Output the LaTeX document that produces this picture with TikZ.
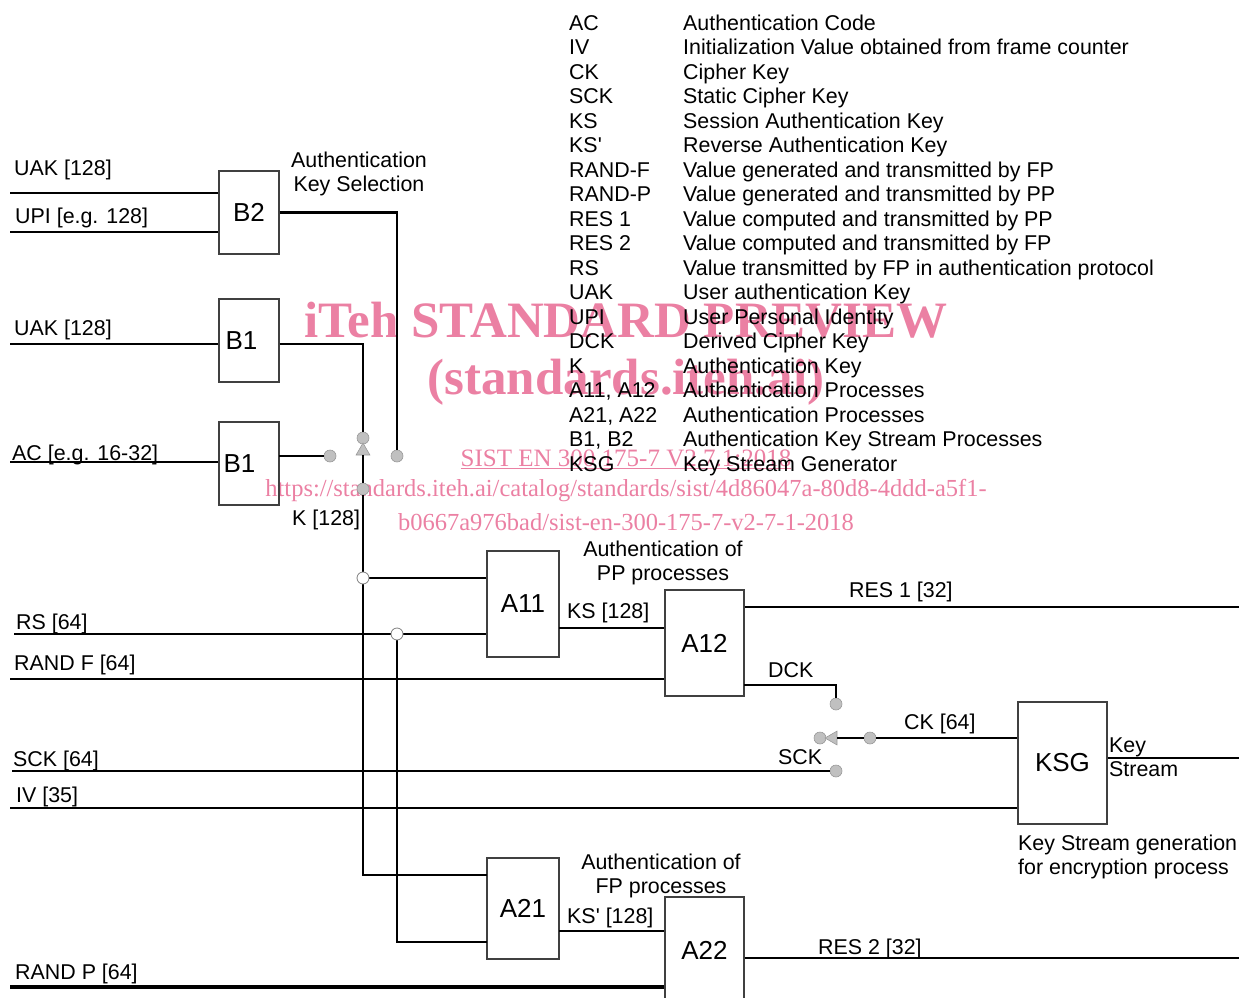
\documentclass[tikz,border=0pt]{standalone}
\usepackage{fontspec}
\setmainfont{Liberation Sans}
\newfontfamily\wmfont{Liberation Serif}
\usetikzlibrary{shapes.geometric}

\definecolor{wmpink}{RGB}{235,128,163}
\definecolor{swgray}{RGB}{192,192,192}

\begin{document}
\begin{tikzpicture}[x=1pt, y=-1pt, every node/.style={font=\fontsize{21.4}{24.5}\selectfont, inner sep=0pt}, blk node/.style={draw=black!75, line width=1.3pt, font=\fontsize{26}{30}\selectfont}, pin node/.style={circle, fill=swgray, draw=black!40, line width=0.6pt, minimum size=12pt}, dot node/.style={circle, fill=white, draw=black!50, line width=0.8pt, minimum size=12pt}, tip node/.style={isosceles triangle, isosceles triangle apex angle=60, fill=swgray, draw=black!40, line width=0.6pt, minimum height=12pt}, lbl node/.style={anchor=base west}, wire/.style={line width=2.3pt}, wm node/.style={text=wmpink}]
\useasboundingbox (0,0) rectangle (1239,998);

% watermark
\node[wm node, font=\wmfont\bfseries\fontsize{51}{56}\selectfont] (wm1) at (626,320) {iTeh STANDARD PREVIEW};
\node[wm node, font=\wmfont\bfseries\fontsize{51}{56}\selectfont] (wm2) at (626,382) {(standards.iteh.ai)};
\node[wm node, font=\wmfont\fontsize{25}{28}\selectfont] (wm3) at (626,459) {\underline{SIST EN 300 175-7 V2.7.1:2018}};
\node[wm node, font=\wmfont\fontsize{24.5}{28}\selectfont] (wm4) at (626,491) {https://standards.iteh.ai/catalog/standards/sist/4d86047a-80d8-4ddd-a5f1-};
\node[wm node, font=\wmfont\fontsize{24.5}{28}\selectfont] (wm5) at (626,522) {b0667a976bad/sist-en-300-175-7-v2-7-1-2018};

% blocks
\node[blk node, minimum width=60pt, minimum height=83pt] (b2) at (249,212.5) {B2};
\node[blk node, minimum width=60pt, minimum height=83pt] (b1a) at (249,340.5) {B1\rule{15pt}{0pt}};
\node[blk node, minimum width=60pt, minimum height=83pt] (b1b) at (249,463.5) {B1\rule{19pt}{0pt}};
\node[blk node, minimum width=72pt, minimum height=106pt] (a11) at (523,604) {A11};
\node[blk node, minimum width=79pt, minimum height=106pt] (a12) at (704.5,643) {A12};
\node[blk node, minimum width=72pt, minimum height=101pt] (a21) at (523,908.5) {A21};
\node[blk node, minimum width=79pt, minimum height=106pt] (a22) at (704.5,950) {A22};
\node[blk node, minimum width=89pt, minimum height=122pt] (ksg) at (1062.5,763) {KSG};

% switch 1
\node[pin node] (sw1) at (363,438) {};
\node[pin node] (sw2) at (330,456) {};
\node[pin node] (sw3) at (397,456) {};
\node[pin node] (sw4) at (363,489) {};
\node[tip node, shape border rotate=90] (tip1) at (363,451) {};

% switch 2
\node[pin node] (sw5) at (836,704) {};
\node[pin node] (sw6) at (820,738) {};
\node[tip node, shape border rotate=180] (tip2) at (833,738) {};
\node[pin node] (sw7) at (870,738) {};
\node[pin node] (sw8) at (836,771) {};

% free ends
\coordinate (uak1) at (10,193);
\coordinate (upi) at (10,232);
\coordinate (uak2) at (10,344);
\coordinate (ac) at (10,462);
\coordinate (b1out) at (279,456);
\coordinate (j1) at (363,578);
\coordinate (j2) at (397,634);
\coordinate (rs) at (14,634);
\coordinate (randf) at (10,679);
\coordinate (ksout) at (559,628);
\coordinate (res1) at (1239,607);
\coordinate (dckout) at (744,685);
\coordinate (sck) at (12,771);
\coordinate (iv) at (10,808);
\coordinate (kso) at (1239,758);
\coordinate (a21in1) at (487,875);
\coordinate (a21in2) at (487,942);
\coordinate (ks2out) at (559,931);
\coordinate (res2) at (1239,958);
\coordinate (randp) at (10,987);

% key selection
\draw[wire] (uak1) -- (uak1 -| b2.west);
\draw[wire] (upi) -- (upi -| b2.west);
\draw[wire] (b2.east) -| (sw3);
\draw[wire] (uak2) -- (uak2 -| b1a.west);
\draw[wire] (uak2 -| b1a.east) -| (sw1);
\draw[wire] (ac) -- (ac -| b1b.west);
\draw[wire] (b1out) -- (sw2);
\draw[wire] (sw4) -- (tip1);

% K to A11 and A21
\draw[wire] (sw4) |- (a21in1);
\draw[wire] (j1) -- (j1 -| a11.west);
\draw[wire] (j2) |- (a21in2);

% PP side
\draw[wire] (rs) -- (rs -| a11.west);
\draw[wire] (randf) -- (randf -| a12.west);
\draw[wire, line width=2.8pt] (ksout) -- (ksout -| a12.west);
\draw[wire] (res1 -| a12.east) -- (res1);
\draw[wire] (dckout) -| (sw5);

% cipher key
\draw[wire] (sw7) -- (tip2);
\draw[wire] (sw7) -- (sw7 -| ksg.west);
\draw[wire] (sck) -- (sw8);
\draw[wire] (iv) -- (iv -| ksg.west);
\draw[wire] (kso -| ksg.east) -- (kso);

% FP side
\draw[wire] (ks2out) -- (ks2out -| a22.west);
\draw[wire] (res2 -| a22.east) -- (res2);
\draw[wire, line width=3.2pt] (randp) -- (randp -| a22.west);

% junctions
\node[dot node] (j1dot) at (j1) {};
\node[dot node] (j2dot) at (j2) {};

% labels
\node[lbl node] (luak1) at (14,175) {UAK [128]};
\node[lbl node] (lupi) at (15,223) {UPI [e.g. 128]};
\node[lbl node] (luak2) at (14,335) {UAK [128]};
\node[lbl node] (lac) at (12,460) {AC [e.g. 16-32]};
\node[lbl node] (lk) at (292,525) {K [128]};
\node[lbl node] (lrs) at (16,629) {RS [64]};
\node[lbl node] (lrandf) at (14,670) {RAND F [64]};
\node[lbl node] (lsck) at (13,766) {SCK [64]};
\node[lbl node] (liv) at (16,802) {IV [35]};
\node[lbl node] (lrandp) at (15,979) {RAND P [64]};
\node[lbl node] (lks) at (567,618) {KS [128]};
\node[lbl node] (lks2) at (567,923) {KS\textquotesingle{} [128]};
\node[lbl node] (lres1) at (849,597) {RES 1 [32]};
\node[lbl node] (lres2) at (818,954) {RES 2 [32]};
\node[lbl node] (ldck) at (768,677) {DCK};
\node[lbl node] (lck) at (904,729) {CK [64]};
\node[lbl node] (lsck2) at (778,764) {SCK};
\node[anchor=north west, align=left, font=\fontsize{21.4}{24}\selectfont] (lstream) at (1109,737.5) {Key\\Stream};
\node[anchor=north west, align=left] (lksg) at (1018,834.5) {Key Stream generation\\for encryption process};
\node[anchor=north, align=center] (lsel) at (359,151.5) {Authentication\\Key Selection};
\node[anchor=north, align=center] (lpp) at (663,540.5) {Authentication of\\PP processes};
\node[anchor=north, align=center] (lfp) at (661,853.5) {Authentication of\\FP processes};

% legend
\node[anchor=north west] (legend) at (569,12.85) {\begin{tabular}{@{}p{114pt}@{}l@{}}
AC & Authentication Code\\
IV & Initialization Value obtained from frame counter\\
CK & Cipher Key\\
SCK & Static Cipher Key\\
KS & Session Authentication Key\\
KS\textquotesingle & Reverse Authentication Key\\
RAND-F & Value generated and transmitted by FP\\
RAND-P & Value generated and transmitted by PP\\
RES 1 & Value computed and transmitted by PP\\
RES 2 & Value computed and transmitted by FP\\
RS & Value transmitted by FP in authentication protocol\\
UAK & User authentication Key\\
UPI & User Personal Identity\\
DCK & Derived Cipher Key\\
K & Authentication Key\\
A11, A12 & Authentication Processes\\
A21, A22 & Authentication Processes\\
B1, B2 & Authentication Key Stream Processes\\
KSG & Key Stream Generator
\end{tabular}};

\end{tikzpicture}
\end{document}
